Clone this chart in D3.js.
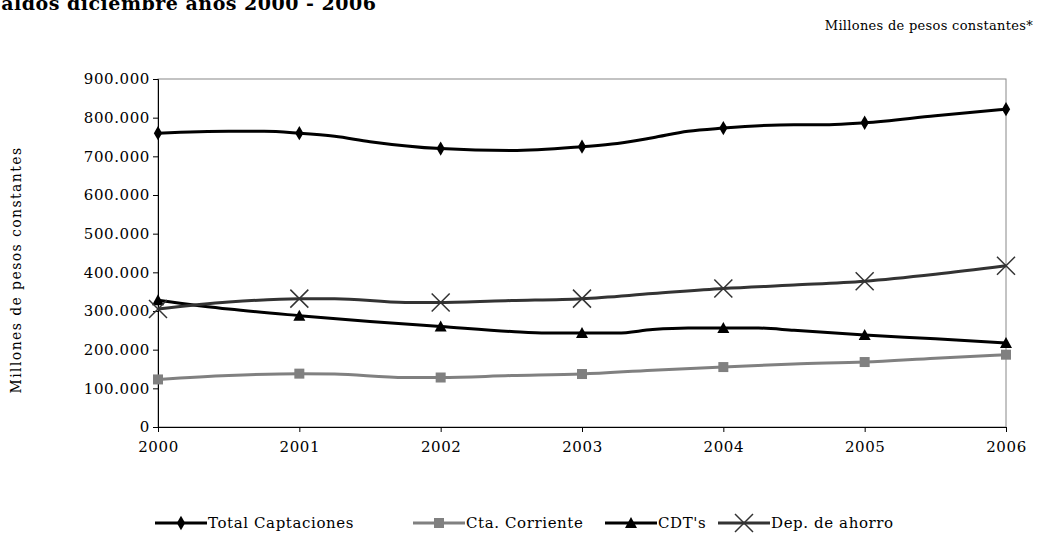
<!DOCTYPE html>
<html><head><meta charset="utf-8">
<script src="https://cdn.jsdelivr.net/npm/d3@7"></script>
<style>body{margin:0;background:#fff}svg{display:block}text{font-family:"DejaVu Serif",serif}</style>
</head><body>
<script>
// values, in thousands of millions
var years = [2000, 2001, 2002, 2003, 2004, 2005, 2006];
var yTicks = [0, 100000, 200000, 300000, 400000, 500000, 600000, 700000, 800000, 900000];
var totalCap = [[2000,760],[2000.5,765],[2000.75,765],[2001,760],[2001.25,752],[2001.5,738],[2002,720],[2002.5,715],[2003,725],[2003.25,733],[2003.5,748],[2003.75,765],[2004,773],[2004.5,782],[2004.75,782],[2005,787],[2005.5,805],[2006,822]];
var ctaCorr = [[2000,123],[2000.5,133],[2001,138],[2001.25,137],[2001.75,128],[2002,128],[2002.5,133],[2003,137],[2003.5,147],[2004,155],[2004.5,163],[2005,168],[2005.5,178],[2006,187]];
var cdts = [[2000,328],[2000.5,305],[2001,288],[2001.5,273],[2002,260],[2002.5,247],[2002.75,243],[2003,243],[2003.25,243],[2003.5,252],[2003.75,256],[2004,256],[2004.25,256],[2004.5,250],[2005,238],[2005.5,228],[2006,217]];
var depAhorro = [[2000,305],[2000.5,323],[2001,332],[2001.25,332],[2001.75,322],[2002,322],[2002.5,327],[2003,332],[2003.5,345],[2004,358],[2004.5,367],[2005,377],[2005.5,395],[2006,417]];

var series = [
  {name:'Total Captaciones', data:totalCap, color:'#000', marker:'diamond'},
  {name:'Cta. Corriente', data:ctaCorr, color:'#808080', marker:'square'},
  {name:"CDT's", data:cdts, color:'#000', marker:'triangle'},
  {name:'Dep. de ahorro', data:depAhorro, color:'#333', marker:'x'}
];

var svg = d3.select('body').append('svg').attr('width', 1047).attr('height', 534);

svg.append('text').attr('x', -13).attr('y', 10).attr('font-size', 19).attr('font-weight', 'bold')
  .attr('letter-spacing', 0.5).text('Saldos diciembre años 2000 - 2006');
svg.append('text').attr('x', 1033).attr('y', 30).attr('text-anchor', 'end').attr('font-size', 13)
  .attr('letter-spacing', 0.3).text('Millones de pesos constantes*');

var x = d3.scaleLinear().domain([2000, 2006]).range([158, 1006]);
var y = d3.scaleLinear().domain([0, 900000]).range([427, 79]);

svg.append('rect').attr('x', 158).attr('y', 79).attr('width', 848).attr('height', 348)
  .attr('fill', 'none').attr('stroke', '#888');

var fmt = function(d){ return d === 0 ? '0' : d3.format(',')(d).replace(/,/g, '.'); };
var ya = svg.append('g').attr('transform', 'translate(158,0)')
  .call(d3.axisLeft(y).tickValues(yTicks).tickSize(5).tickFormat(fmt));
var xa = svg.append('g').attr('transform', 'translate(0,427)')
  .call(d3.axisBottom(x).tickValues(years).tickSize(5).tickFormat(d3.format('d')));
[ya, xa].forEach(function(a){
  a.select('.domain').attr('stroke', '#000');
  a.selectAll('.tick line').attr('stroke', '#000');
  a.selectAll('text').attr('font-size', 15).attr('fill', '#000').attr('letter-spacing', 0.6)
    .style('font-family', '"DejaVu Serif",serif');
});
xa.selectAll('text').attr('dy', '1.1em');

svg.append('text').attr('transform', 'translate(21,270) rotate(-90)').attr('text-anchor', 'middle')
  .attr('font-size', 14).attr('letter-spacing', 1.4).text('Millones de pesos constantes');

var line = d3.line().x(function(d){return x(d[0]);}).y(function(d){return y(d[1]*1000);}).curve(d3.curveMonotoneX);

function marker(g, type, color){
  if (type === 'diamond') g.append('path').attr('d', d3.symbol(d3.symbolDiamond, 60)()).attr('fill', color);
  if (type === 'square') g.append('rect').attr('x', -5).attr('y', -5).attr('width', 10).attr('height', 10).attr('fill', color);
  if (type === 'triangle') g.append('path').attr('d', 'M0,-6L6,5L-6,5Z').attr('fill', color);
  if (type === 'x') g.append('path').attr('d', 'M-9,-9L9,9M-9,9L9,-9').attr('stroke', color).attr('stroke-width', 1.5);
}

series.forEach(function(s){
  svg.append('path').datum(s.data).attr('d', line).attr('fill', 'none')
    .attr('stroke', s.color).attr('stroke-width', 3);
  s.data.filter(function(d){ return years.indexOf(d[0]) >= 0; }).forEach(function(d){
    marker(svg.append('g').attr('transform', 'translate(' + x(d[0]) + ',' + y(d[1]*1000) + ')'), s.marker, s.color);
  });
});

var lx = [155, 413, 605, 718];
series.forEach(function(s, i){
  var g = svg.append('g').attr('transform', 'translate(' + lx[i] + ',523)');
  g.append('line').attr('x1', 0).attr('x2', 52).attr('stroke', s.color).attr('stroke-width', 3);
  marker(g.append('g').attr('transform', 'translate(26,0)'), s.marker, s.color);
  g.append('text').attr('x', 53).attr('y', 5).attr('font-size', 15).attr('letter-spacing', 0.6).text(s.name);
});
</script>
</body></html>
